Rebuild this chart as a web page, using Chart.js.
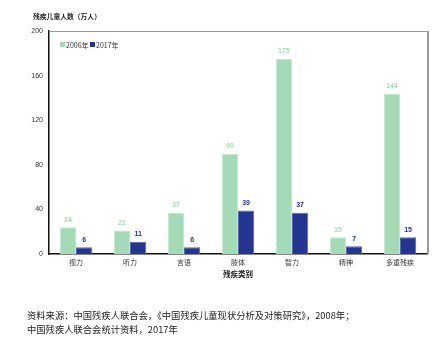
<!DOCTYPE html>
<html>
<head>
<meta charset="utf-8">
<script src="https://cdn.jsdelivr.net/npm/chart.js@4/dist/chart.umd.min.js"></script>
<style>
  html, body { margin: 0; padding: 0; background: #fff; }
  #wrap { position: relative; width: 440px; height: 343px; }
  #c { position: absolute; left: 0; top: 0; }
  .note { position: absolute; left: 27px; font: 9.3px "Noto Sans CJK SC", sans-serif; color: #222; white-space: nowrap; }
</style>
</head>
<body>
<div id="wrap">
  <canvas id="c" width="440" height="343"></canvas>
  <div class="note" style="top:308px">资料来源：中国残疾人联合会，《中国残疾儿童现状分析及对策研究》，2008年；</div>
  <div class="note" style="top:322px">中国残疾人联合会统计资料，2017年</div>
</div>
<script>
let categories = ['视力', '听力', '言语', '肢体', '智力', '精神', '多重残疾'];
let data2006 = [24, 21, 37, 90, 175, 15, 144];
let data2017 = [6, 11, 6, 39, 37, 7, 15];
let yTicks = [0, 40, 80, 120, 160, 200];

const green = '#a2dbb5';
const navy = '#233591';
const cjk = '"Noto Sans CJK SC", sans-serif';

// value labels, legend, axis titles and the grey frame
const extras = {
    id: 'extras',
    afterDatasetsDraw(chart) {
        let ctx = chart.ctx;
        let area = chart.chartArea;
        ctx.save();

        // frame on top and right
        ctx.strokeStyle = '#9a9a9a';
        ctx.lineWidth = 1;
        ctx.beginPath();
        ctx.moveTo(area.left, area.top + 0.5);
        ctx.lineTo(area.right, area.top + 0.5);
        ctx.stroke();
        ctx.lineWidth = 2;
        ctx.beginPath();
        ctx.moveTo(area.right + 1, area.top);
        ctx.lineTo(area.right + 1, area.bottom);
        ctx.stroke();

        // numbers over bars
        ctx.textAlign = 'center';
        ctx.textBaseline = 'bottom';
        chart.data.datasets.forEach((ds, i) => {
            let meta = chart.getDatasetMeta(i);
            ctx.fillStyle = ds.labelColor;
            ctx.font = 'bold 7px Arial, sans-serif';
            meta.data.forEach((bar, j) => {
                ctx.fillText(ds.data[j], bar.x, bar.y - 4);
            });
        });

        // legend inside plot
        let x = area.left + 11;
        let y = area.top + 14;
        ctx.textAlign = 'left';
        ctx.textBaseline = 'middle';
        ctx.font = '7px ' + cjk;
        chart.data.datasets.forEach((ds) => {
            ctx.fillStyle = ds.backgroundColor;
            ctx.fillRect(x, y - 3, 5, 5);
            ctx.fillStyle = '#333';
            ctx.fillText(ds.label, x + 6, y);
            x += 30;
        });

        // axis titles
        ctx.fillStyle = '#222';
        ctx.font = 'bold 6.8px ' + cjk;
        ctx.textAlign = 'left';
        ctx.fillText('残疾儿童人数（万人）', 33, 16);
        ctx.font = 'bold 7.5px ' + cjk;
        ctx.textAlign = 'center';
        ctx.fillText('残疾类别', (area.left + area.right) / 2, 274);
        ctx.restore();
    }
};

new Chart(document.getElementById('c').getContext('2d'), {
    type: 'bar',
    data: {
        labels: categories,
        datasets: [{
            label: '2006年',
            data: data2006,
            backgroundColor: green,
            borderColor: '#c4e9d0',
            borderWidth: 1,
            labelColor: '#a2dbb5',
            barPercentage: 1,
            categoryPercentage: 0.6
        }, {
            label: '2017年',
            data: data2017,
            backgroundColor: navy,
            borderColor: '#5665ad',
            borderWidth: 1,
            labelColor: navy,
            barPercentage: 1,
            categoryPercentage: 0.6
        }]
    },
    options: {
        responsive: false,
        animation: false,
        events: [],
        layout: { padding: { left: 0, top: 31, right: 13, bottom: 0 } },
        plugins: {
            legend: { display: false },
            tooltip: { enabled: false }
        },
        scales: {
            x: {
                grid: { display: false, drawTicks: false },
                border: { display: true, color: '#111', width: 1.5 },
                ticks: { color: '#333', font: { family: cjk, size: 7 }, padding: 4 },
                afterFit: (scale) => { scale.height = 89; }
            },
            y: {
                min: 0,
                max: 200,
                grid: { display: false, drawTicks: false },
                border: { display: true, color: '#111', width: 1.5 },
                afterBuildTicks: (scale) => { scale.ticks = yTicks.map(v => ({ value: v })); },
                ticks: { color: '#333', font: { family: 'Arial, sans-serif', size: 7 }, padding: 6 },
                afterFit: (scale) => { scale.width = 49; }
            }
        }
    },
    plugins: [extras]
});
</script>
</body>
</html>
